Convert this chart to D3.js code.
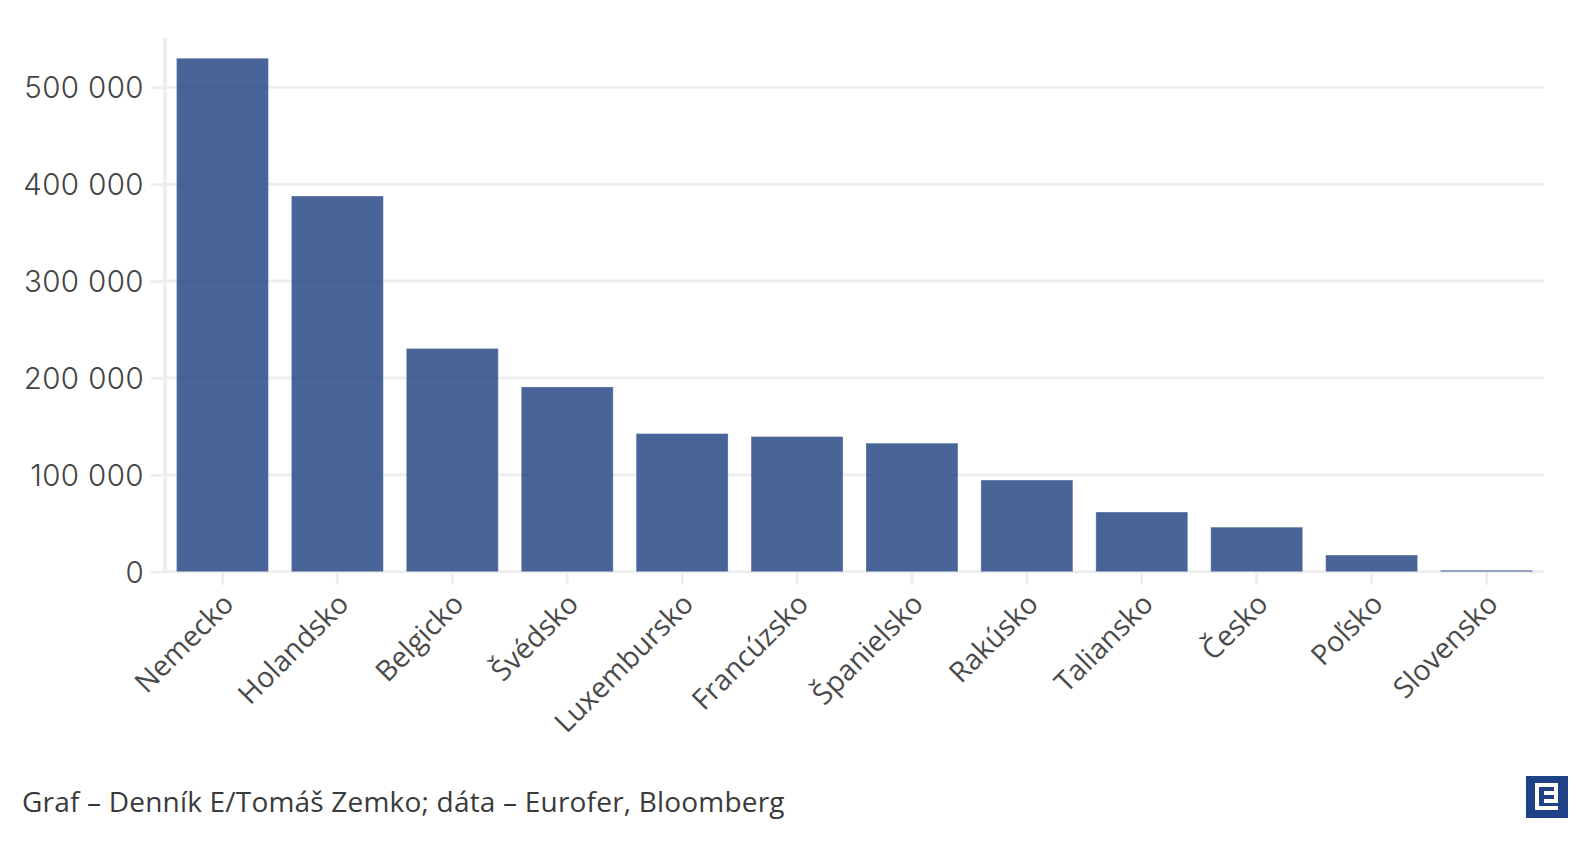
<!DOCTYPE html>
<html><head><meta charset="utf-8">
<script src="https://cdn.jsdelivr.net/npm/d3@7"></script>
<style>html,body{margin:0;padding:0;background:#fff;overflow:hidden}svg{display:block}</style>
</head><body><svg id="c" width="1588" height="846"></svg>
<script>
const categories=["Nemecko","Holandsko","Belgicko","Švédsko","Luxembursko","Francúzsko","Španielsko","Rakúsko","Taliansko","Česko","Poľsko","Slovensko"];
const values=[530000,387800,230400,190700,142600,139500,132700,94600,61600,46000,17200,1500];
const yTicks=[0,100000,200000,300000,400000,500000];
const source="Graf – Denník E/Tomáš Zemko; dáta – Eurofer, Bloomberg";
const FONT='"Open Sans",sans-serif';
const svg=d3.select("#c");
const x=d3.scaleBand().domain(categories).range([165,1544]).paddingInner(0.2).paddingOuter(0.1);
const y=d3.scaleLinear().domain([0,500000]).range([571.7,87.3]);
const fmt=v=>d3.format(",")(v).replace(/,/g," ");
const lineC="#eeeeee";
const yA=svg.append("g").attr("transform","translate(165,0)").call(d3.axisLeft(y).tickValues(yTicks).tickSize(14).tickPadding(7).tickFormat(fmt));
yA.select(".domain").remove();
yA.selectAll("line").attr("stroke",lineC).attr("stroke-width",3);
yA.selectAll("text").attr("fill","#444").style("font-family",'Inter,sans-serif').style("font-size","29.5px").style("font-weight",300).style("letter-spacing","0.4px").attr("dy","0.35em");
svg.append("g").selectAll("line").data(yTicks).join("line").attr("x1",165).attr("x2",1544).attr("y1",d=>y(d)).attr("y2",d=>y(d)).attr("stroke",lineC).attr("stroke-width",3);
svg.append("line").attr("x1",165).attr("x2",165).attr("y1",38).attr("y2",573).attr("stroke",lineC).attr("stroke-width",3.8);
const xA=svg.append("g").attr("transform","translate(0,571.7)").call(d3.axisBottom(x).tickSize(13).tickPadding(0));
xA.select(".domain").remove();
xA.selectAll("line").attr("stroke",lineC).attr("stroke-width",3);
xA.selectAll("text").attr("fill","#4a4a4a").style("font-family",FONT).style("font-size","28.5px").attr("text-anchor","end").attr("dy",0).attr("y",0)
  .attr("transform","translate(13,34) rotate(-45)");
svg.append("g").selectAll("rect").data(categories).join("rect")
 .attr("x",d=>x(d)).attr("width",x.bandwidth())
 .attr("y",(d,i)=>y(values[i])).attr("height",(d,i)=>y(0)-y(values[i]))
 .attr("fill","#1c3d80").attr("fill-opacity",0.8).attr("stroke","#fff").attr("stroke-opacity",0.3).attr("stroke-width",1);
svg.append("text").attr("x",22).attr("y",812).text(source).attr("fill","#3a3a3a").style("font-family",FONT).style("font-size","28px").style("letter-spacing","0.2px");
const logo=svg.append("g").attr("transform","translate(1526,776)");
logo.append("rect").attr("width",42).attr("height",42).attr("fill","#1f4287");
logo.append("path").attr("d","M9 7H32V27H18V23H28V11H13V30H32V34H9Z M18 15H28V19H18Z").attr("fill","#fff");
</script></body></html>
